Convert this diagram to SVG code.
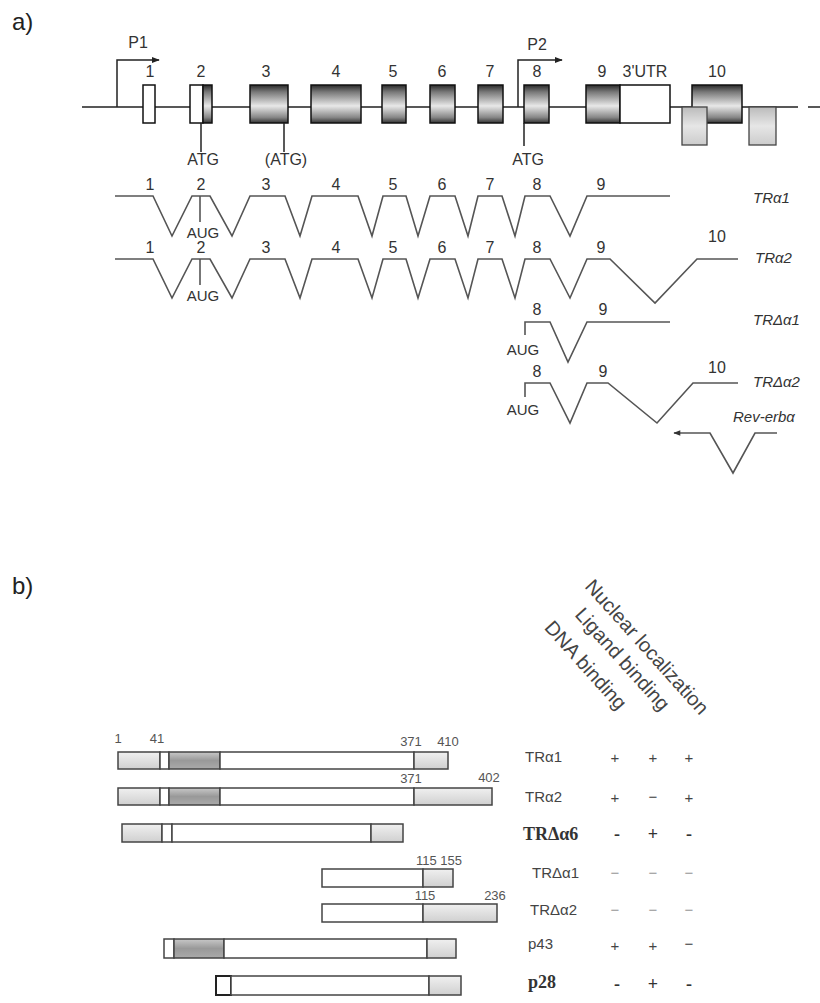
<svg xmlns="http://www.w3.org/2000/svg" width="820" height="1003" viewBox="0 0 820 1003">
<defs>
<linearGradient id="exonGrad" x1="0" y1="0" x2="0" y2="1">
<stop offset="0" stop-color="#2a2a2a"/><stop offset="0.18" stop-color="#777"/><stop offset="0.55" stop-color="#e8e8e8"/><stop offset="0.85" stop-color="#888"/><stop offset="1" stop-color="#333"/>
</linearGradient>
<linearGradient id="lightGrad" x1="0" y1="0" x2="0" y2="1">
<stop offset="0" stop-color="#bbb"/><stop offset="0.5" stop-color="#e6e6e6"/><stop offset="1" stop-color="#ccc"/>
</linearGradient>
<linearGradient id="protLight" x1="0" y1="0" x2="0" y2="1">
<stop offset="0" stop-color="#f0f0f0"/><stop offset="1" stop-color="#d0d0d0"/>
</linearGradient>
<linearGradient id="protDark" x1="0" y1="0" x2="0" y2="1">
<stop offset="0" stop-color="#c8c8c8"/><stop offset="0.5" stop-color="#999"/><stop offset="1" stop-color="#aaa"/>
</linearGradient>
<marker id="arr" viewBox="0 0 10 10" refX="9" refY="5" markerWidth="8" markerHeight="8" markerUnits="userSpaceOnUse" orient="auto">
<path d="M0,1 L10,5 L0,9 z" fill="#222"/>
</marker>
<marker id="arr2" viewBox="0 0 10 10" refX="9" refY="5" markerWidth="9" markerHeight="7" markerUnits="userSpaceOnUse" orient="auto">
<path d="M0,1 L10,5 L0,9 z" fill="#333"/>
</marker>
</defs>
<style>
text{font-family:"Liberation Sans",Arial,sans-serif;fill:#333}
.big{font-size:24px;fill:#222}
.lab{font-size:16px;text-anchor:middle}
.atg{font-size:16px;text-anchor:middle}
.aug{font-size:15px;text-anchor:middle}
.tr{font-size:15px;font-style:italic}
.ex{stroke:#111;stroke-width:1.5}
.tx{fill:none;stroke:#555;stroke-width:1.6;stroke-linejoin:miter}
.gl{fill:none;stroke:#222;stroke-width:1.5}
.pb{stroke:#444;stroke-width:1.5}
.num{font-size:13px;fill:#555;text-anchor:middle}
.pl{font-size:15px;fill:#444}
.pls{font-size:18px;font-family:"Liberation Serif",serif;font-weight:bold;fill:#333}
.mk{font-size:15px;text-anchor:middle;fill:#444}
.mks{font-size:18px;text-anchor:middle;font-family:"Liberation Serif",serif;font-weight:bold;fill:#333}
.mkl{font-size:15px;text-anchor:middle;fill:#999}
.hd{font-size:20px;fill:#444;text-anchor:end}
</style>
<rect width="820" height="1003" fill="#fff"/>

<text class="big" x="12" y="30">a)</text>

<g id="gene-line">
<path class="gl" d="M82,107 L798,107 M808,107 L820,107"/>
</g>
<g id="promoter-P1">
<path class="gl" d="M117,107 L117,60 L159,60" marker-end="url(#arr)"/>
<text class="lab" x="138" y="48">P1</text>
</g>
<g id="promoter-P2">
<path class="gl" d="M518,107 L518,60 L562,60" marker-end="url(#arr)"/>
<text class="lab" x="537" y="50">P2</text>
</g>
<g id="exon-1"><rect class="ex" x="143" y="85" width="12" height="38" fill="#fff"/><text class="lab" x="150" y="77">1</text></g>
<g id="exon-2"><rect class="ex" x="190" y="85" width="13" height="38" fill="#fff"/><rect class="ex" x="203" y="85" width="9" height="38" fill="url(#exonGrad)"/><text class="lab" x="201" y="77">2</text>
<path class="gl" d="M201,123 L201,152"/><text class="atg" x="203" y="165">ATG</text></g>
<g id="exon-3"><rect class="ex" x="250" y="85" width="38" height="38" fill="url(#exonGrad)"/><text class="lab" x="266" y="77">3</text>
<path class="gl" d="M284,123 L284,152"/><text class="atg" x="286" y="165">(ATG)</text></g>
<g id="exon-4"><rect class="ex" x="311" y="85" width="50" height="38" fill="url(#exonGrad)"/><text class="lab" x="336" y="77">4</text></g>
<g id="exon-5"><rect class="ex" x="382" y="85" width="24" height="38" fill="url(#exonGrad)"/><text class="lab" x="393" y="77">5</text></g>
<g id="exon-6"><rect class="ex" x="430" y="85" width="25" height="38" fill="url(#exonGrad)"/><text class="lab" x="442" y="77">6</text></g>
<g id="exon-7"><rect class="ex" x="478" y="85" width="25" height="38" fill="url(#exonGrad)"/><text class="lab" x="490" y="77">7</text></g>
<g id="exon-8"><rect class="ex" x="524" y="85" width="25" height="38" fill="url(#exonGrad)"/><text class="lab" x="537" y="77">8</text>
<path class="gl" d="M524,123 L524,146"/><text class="atg" x="528" y="165">ATG</text></g>
<g id="exon-9"><rect class="ex" x="586" y="85" width="34" height="38" fill="url(#exonGrad)"/><rect class="ex" x="620" y="85" width="50" height="38" fill="#fff"/><text class="lab" x="602" y="77">9</text><text class="lab" x="645" y="77">3'UTR</text></g>
<g id="exon-10"><rect class="ex" x="692" y="85" width="50" height="38" fill="url(#exonGrad)"/><text class="lab" x="717" y="77">10</text></g>
<g id="rev-erb-exons">
<rect x="682" y="107" width="25" height="38" fill="url(#lightGrad)" stroke="#444" stroke-width="1.3"/>
<rect x="749" y="107" width="27" height="38" fill="url(#lightGrad)" stroke="#444" stroke-width="1.3"/>
</g>

<g id="connectors">
<g id="TRa1">
<path class="tx" d="M115,196 L153,196 L172,236 L192,196 L210,196 L232,236 L250,196 L285,196 L300,236 L312,196 L358,196 L372,236 L383,196 L406,196 L418,236 L430,196 L455,196 L468,236 L478,196 L502,196 L515,236 L525,196 L550,196 L570,236 L587,196 L670,196"/>
<path class="tx" d="M200,196 L200,222"/>
<text class="aug" x="203" y="238">AUG</text>
<text class="lab" x="150" y="190">1</text><text class="lab" x="201" y="190">2</text><text class="lab" x="266" y="190">3</text><text class="lab" x="336" y="190">4</text><text class="lab" x="393" y="190">5</text><text class="lab" x="442" y="190">6</text><text class="lab" x="490" y="190">7</text><text class="lab" x="537" y="190">8</text><text class="lab" x="601" y="190">9</text>
<text class="tr" x="753" y="203">TRα1</text>
</g>
<g id="TRa2">
<path class="tx" d="M115,259 L153,259 L172,298 L192,259 L210,259 L232,298 L250,259 L285,259 L300,298 L312,259 L358,259 L372,298 L383,259 L406,259 L418,298 L430,259 L455,259 L468,298 L478,259 L502,259 L515,298 L525,259 L550,259 L570,298 L587,259 L610,259 L655,303 L697,259 L738,259"/>
<path class="tx" d="M200,259 L200,285"/>
<text class="aug" x="203" y="301">AUG</text>
<text class="lab" x="150" y="253">1</text><text class="lab" x="201" y="253">2</text><text class="lab" x="266" y="253">3</text><text class="lab" x="336" y="253">4</text><text class="lab" x="393" y="253">5</text><text class="lab" x="442" y="253">6</text><text class="lab" x="490" y="253">7</text><text class="lab" x="537" y="253">8</text><text class="lab" x="601" y="253">9</text><text class="lab" x="717" y="242">10</text>
<text class="tr" x="755" y="263">TRα2</text>
</g>
<g id="TRda1">
<path class="tx" d="M525,335 L525,322 L550,322 L568,362 L587,322 L670,322"/>
<text class="aug" x="523" y="355">AUG</text>
<text class="lab" x="537" y="315">8</text><text class="lab" x="603" y="315">9</text>
<text class="tr" x="753" y="325">TRΔα1</text>
</g>
<g id="TRda2">
<path class="tx" d="M525,397 L525,383 L550,383 L570,423 L587,383 L608,383 L657,423 L693,383 L738,383"/>
<text class="aug" x="523" y="415">AUG</text>
<text class="lab" x="537" y="377">8</text><text class="lab" x="603" y="377">9</text><text class="lab" x="717" y="373">10</text>
<text class="tr" x="753" y="387">TRΔα2</text>
</g>
<g id="Rev-erb">
<path class="tx" d="M777,433 L755,433 L733,473 L710,433 L674,433" marker-end="url(#arr2)"/>
<text class="tr" x="733" y="422">Rev-erbα</text>
</g>
</g>

<text class="big" x="12" y="594">b)</text>

<g id="headers">
<text class="hd" transform="translate(618,711) rotate(48)">DNA binding</text>
<text class="hd" transform="translate(661,712) rotate(48)">Ligand binding</text>
<text class="hd" transform="translate(700,716) rotate(48)">Nuclear localization</text>
</g>

<g id="row-TRa1">
<rect class="pb" x="118" y="752" width="42" height="17" fill="url(#protLight)"/>
<rect class="pb" x="160" y="752" width="9" height="17" fill="#fff"/>
<rect class="pb" x="169" y="752" width="51" height="17" fill="url(#protDark)"/>
<rect class="pb" x="220" y="752" width="194" height="17" fill="#fff"/>
<rect class="pb" x="414" y="752" width="34" height="17" fill="url(#protLight)"/>
<text class="num" x="118" y="743">1</text><text class="num" x="157" y="743">41</text><text class="num" x="411" y="746">371</text><text class="num" x="448" y="746">410</text>
<text class="pl" x="525" y="762">TRα1</text>
<text class="mk" x="615" y="763">+</text><text class="mk" x="653" y="763">+</text><text class="mk" x="689" y="763">+</text>
</g>
<g id="row-TRa2">
<rect class="pb" x="118" y="788" width="42" height="17" fill="url(#protLight)"/>
<rect class="pb" x="160" y="788" width="9" height="17" fill="#fff"/>
<rect class="pb" x="169" y="788" width="51" height="17" fill="url(#protDark)"/>
<rect class="pb" x="220" y="788" width="194" height="17" fill="#fff"/>
<rect class="pb" x="414" y="788" width="78" height="17" fill="url(#protLight)"/>
<text class="num" x="411" y="783">371</text><text class="num" x="489" y="782">402</text>
<text class="pl" x="525" y="802">TRα2</text>
<text class="mk" x="615" y="803">+</text><text class="mk" x="653" y="802">−</text><text class="mk" x="689" y="803">+</text>
</g>
<g id="row-TRda6">
<rect class="pb" x="122" y="824" width="40" height="18" fill="url(#protLight)"/>
<rect class="pb" x="162" y="824" width="10" height="18" fill="#fff"/>
<rect class="pb" x="172" y="824" width="199" height="18" fill="#fff"/>
<rect class="pb" x="371" y="824" width="32" height="18" fill="url(#protLight)"/>
<text class="pls" x="523" y="840">TRΔα6</text>
<text class="mks" x="617" y="840">-</text><text class="mks" x="653" y="840">+</text><text class="mks" x="689" y="840">-</text>
</g>
<g id="row-TRda1">
<rect class="pb" x="322" y="869" width="101" height="18" fill="#fff"/>
<rect class="pb" x="423" y="869" width="30" height="18" fill="url(#protLight)"/>
<text class="num" x="439" y="865">115 155</text>
<text class="pl" x="532" y="878" fill="#555">TRΔα1</text>
<text class="mkl" x="615" y="878">−</text><text class="mkl" x="653" y="878">−</text><text class="mkl" x="689" y="878">−</text>
</g>
<g id="row-TRda2">
<rect class="pb" x="322" y="904" width="101" height="18" fill="#fff"/>
<rect class="pb" x="423" y="904" width="74" height="18" fill="url(#protLight)"/>
<text class="num" x="425" y="900">115</text><text class="num" x="495" y="900">236</text>
<text class="pl" x="530" y="915" fill="#555">TRΔα2</text>
<text class="mkl" x="615" y="915">−</text><text class="mkl" x="653" y="915">−</text><text class="mkl" x="689" y="915">−</text>
</g>
<g id="row-p43">
<rect class="pb" x="164" y="939" width="10" height="19" fill="#fff"/>
<rect class="pb" x="174" y="939" width="50" height="19" fill="url(#protDark)"/>
<rect class="pb" x="224" y="939" width="203" height="19" fill="#fff"/>
<rect class="pb" x="427" y="939" width="29" height="19" fill="url(#protLight)"/>
<text class="pl" x="528" y="949">p43</text>
<text class="mk" x="615" y="951">+</text><text class="mk" x="653" y="951">+</text><text class="mk" x="689" y="949">−</text>
</g>
<g id="row-p28">
<rect x="216" y="976" width="15" height="19" fill="#fff" stroke="#222" stroke-width="2"/>
<rect class="pb" x="231" y="976" width="198" height="19" fill="#fff"/>
<rect class="pb" x="429" y="976" width="32" height="19" fill="url(#protLight)"/>
<text class="pls" x="528" y="988">p28</text>
<text class="mks" x="617" y="990">-</text><text class="mks" x="653" y="990">+</text><text class="mks" x="689" y="990">-</text>
</g>
</svg>
